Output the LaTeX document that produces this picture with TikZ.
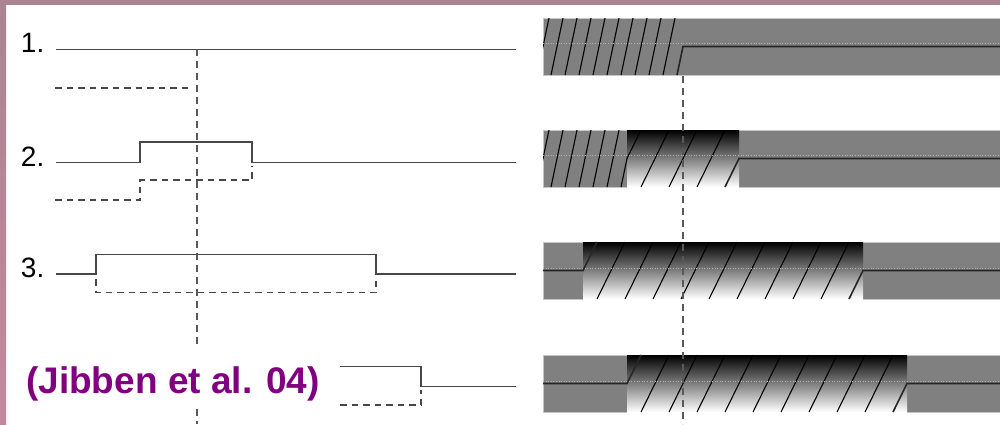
\documentclass[tikz,border=0pt]{standalone}
\usepackage{fontspec}
\setmainfont{Liberation Sans}
\definecolor{citepurple}{HTML}{800080}
\definecolor{frametop}{HTML}{AA8490}
\definecolor{framepink}{HTML}{FA88C8}
\definecolor{framelow}{HTML}{C4889C}
\begin{document}
\begin{tikzpicture}[x=1pt,y=-1pt,
  trace/.style={draw=black!72, line width=1.4pt, line join=miter},
  ghost/.style={draw=black!72, line width=1.3pt, dash pattern=on 6.5pt off 5pt},
  marker/.style={draw=black!65, line width=1.2pt, dash pattern=on 7pt off 5pt},
  bar/.style={fill=gray, draw=gray!45, line width=0.8pt},
  fade/.style={top color=black, bottom color=white},
  hatch/.style={draw=black, line width=1.1pt},
  signal/.style={draw=black!85, line width=1.6pt, line join=miter},
  midrule/.style={draw=gray!60, line width=0.6pt, dotted},
  rowlabel/.style={font=\fontsize{28}{30}\selectfont, anchor=base east, inner sep=0pt},
]
\useasboundingbox (0,0) rectangle (1000,424);
\fill[white] (0,0) rectangle (1000,424);

% slide frame
\fill[frametop] (0,0) rectangle (1000,5);
\shade[top color=frametop, middle color=framepink, bottom color=framelow] (0,0) rectangle (6,424);

% ---------------- left: timing traces ----------------
\node[rowlabel] (lab1) at (44.5,52.5) {1.};
\node[rowlabel] (lab2) at (44.5,166) {2.};
\node[rowlabel] (lab3) at (44.5,277.5) {3.};

% row 1
\draw[trace] (56,49.3) -- (516,49.3);
\draw[ghost] (55,88) -- (192,88);
% row 2
\draw[trace] (56,162.5) -- (140,162.5) -- (140,142) -- (252,142) -- (252,162.5) -- (516,162.5);
\draw[ghost] (55,200) -- (140,200) -- (140,180) -- (252,180) -- (252,166);
% row 3
\draw[trace] (56,274) -- (96,274) -- (96,254.5) -- (376,254.5) -- (376,274) -- (516,274);
\draw[ghost] (96,279) -- (96,292.5) -- (376,292.5) -- (376,279);
% row 4
\draw[trace] (340,366.7) -- (421,366.7) -- (421,386.7) -- (516,386.7);
\draw[ghost] (340,405) -- (421,405) -- (421,390);

% time marker
\draw[marker] (197,49.3) -- (197,424);

% citation over the lower left corner
\fill[white] (12,346) rectangle (339,409);
\node[font=\bfseries\fontsize{37}{40}\selectfont, text=citepurple, anchor=base west, inner sep=0pt] (cite) at (26,393) {(Jibben et al. 04)};

% ---------------- right: bars ----------------
% row 1
\draw[bar] (543,18) rectangle (1000,75);
\begin{scope}
  \clip (543,18) rectangle (683,75);
  \foreach \b in {537,551,...,663} \draw[hatch] (\b,75) -- (\b+12,18);
\end{scope}
\draw[midrule] (543,43.5) -- (1000,43.5);
\draw[signal] (677,75) -- (683,46.5) -- (1000,46.5);

% row 2
\draw[bar] (543,130) rectangle (1000,187);
\shade[fade] (627,130) rectangle (739,187);
\begin{scope}
  \clip (543,130) rectangle (627,187);
  \foreach \b in {537,551,...,621} \draw[hatch] (\b,187) -- (\b+12,130);
\end{scope}
\begin{scope}
  \clip (627,130) rectangle (739,187);
  \foreach \b in {613,641,...,697} \draw[hatch] (\b,187) -- (\b+28,130);
\end{scope}
\draw[midrule] (543,155.5) -- (1000,155.5);
\draw[signal] (725,187) -- (739,158.5) -- (1000,158.5);

% row 3
\draw[bar] (543,242) rectangle (1000,299);
\shade[fade] (583,242) rectangle (863,299);
\foreach \b in {597,625,...,821} \draw[hatch] (\b,299) -- (\b+28,242);
\draw[midrule] (543,268) -- (1000,268);
\draw[signal] (543,270.5) -- (583,270.5) -- (597,242);
\draw[signal] (849,299) -- (863,270.5) -- (1000,270.5);

% row 4
\draw[bar] (543,355) rectangle (1000,412);
\shade[fade] (627,355) rectangle (907,412);
\foreach \b in {641,669,...,865} \draw[hatch] (\b,412) -- (\b+28,355);
\draw[midrule] (543,381) -- (1000,381);
\draw[signal] (543,383.5) -- (627,383.5) -- (641,355);
\draw[signal] (893,412) -- (907,383.5) -- (1000,383.5);

% time marker
\draw[marker] (683,76) -- (683,424);
\end{tikzpicture}
\end{document}
